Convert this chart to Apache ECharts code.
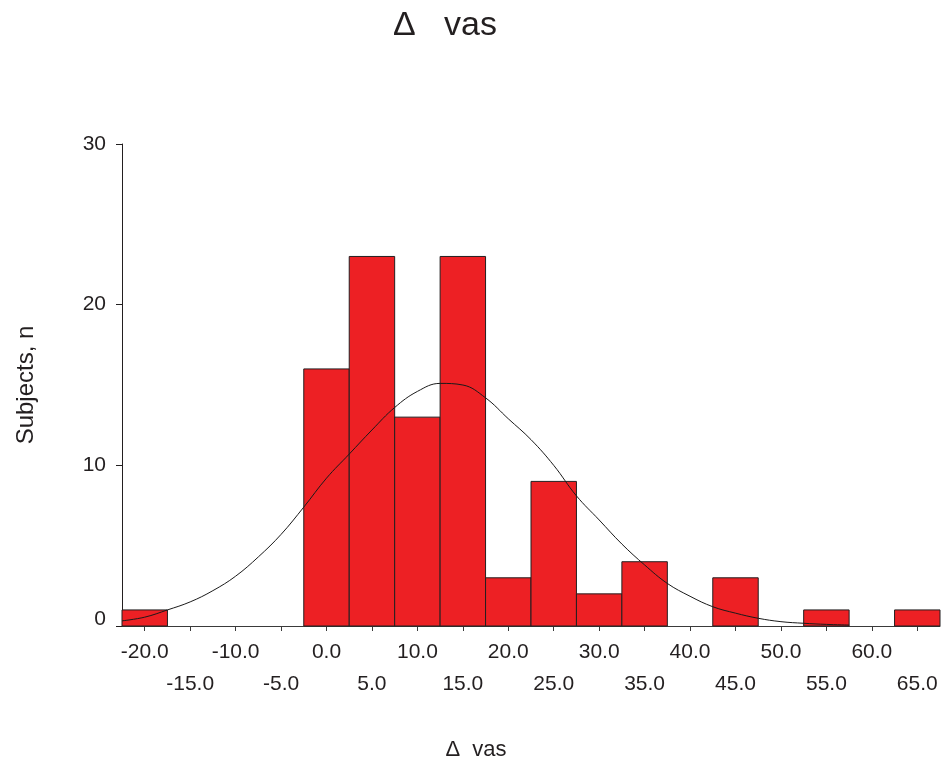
<!DOCTYPE html>
<html>
<head>
<meta charset="utf-8">
<title>Δ vas</title>
<script src="https://cdn.jsdelivr.net/npm/echarts@6/dist/echarts.min.js"></script>
<style>
  html, body { margin: 0; padding: 0; background: #ffffff; }
  #chart { width: 942px; height: 763px; }
</style>
</head>
<body>
<div id="chart"></div>
<script>
// Histogram bins (centre of each 5-unit bin) and subject counts
const binCenters = [-20, -15, -10, -5, 0, 5, 10, 15, 20, 25, 30, 35, 40, 45, 50, 55, 60, 65];
const binCounts  = [  1,   0,   0,  0, 16, 23, 13, 23,  3,  9,  2,  4,  0,  3,  0,  1,  0,  1];
const binWidth = 5;

// Fitted normal curve, sampled points [Δ vas, subjects]
const curveX = [-22.5, -20, -17.5, -15, -12.5, -10, -7.5, -5, -2.5, 0, 2.5, 5, 7.5, 10, 12.5, 15, 17.5,
                20, 22.5, 25, 27.5, 30, 32.5, 35, 37.5, 40, 42.5, 45, 47.5, 50, 52.5, 55, 57.5];
const curveY = [0.32, 0.55, 1.0, 1.5, 2.2, 3.1, 4.3, 5.7, 7.4, 9.2, 10.7, 12.2, 13.6, 14.6, 15.1, 15.0, 14.2,
                12.9, 11.6, 10.0, 8.1, 6.6, 5.1, 3.8, 2.65, 1.85, 1.2, 0.8, 0.48, 0.27, 0.17, 0.1, 0.06];

// Tick labels: x labels alternate between two rows
const xTicksUpper = [-20, -10, 0, 10, 20, 30, 40, 50, 60];
const xTicksLower = [-15, -5, 5, 15, 25, 35, 45, 55, 65];
const xTicksAll = binCenters;
const yTicks = [0, 10, 20, 30];

const titleText = 'Δ   vas';
const xName = 'Δ  vas';
const yName = 'Subjects, n';

const FONT = '"Liberation Sans", Arial, Helvetica, sans-serif';
const INK = '#231f20';
const RED = '#ed2024';

const chart = echarts.init(document.getElementById('chart'));

const xMin = binCenters[0] - binWidth / 2;
const xMax = binCenters[binCenters.length - 1] + binWidth / 2;

const baseX = {
  type: 'value', gridIndex: 0, min: xMin, max: xMax, position: 'bottom',
  splitLine: { show: false }
};

const option = {
  animation: false,
  backgroundColor: '#ffffff',
  grid: { left: 122, right: 2, top: 144, bottom: 137, containLabel: false },
  xAxis: [
    Object.assign({}, baseX, {
      axisLine: { show: true, onZero: false, lineStyle: { color: '#3a3a3a', width: 1 } },
      axisTick: { show: true, length: 5, lineStyle: { color: '#3a3a3a' }, customValues: xTicksAll },
      axisLabel: {
        show: true, margin: 16, fontSize: 21, fontFamily: FONT, color: INK,
        customValues: xTicksUpper, formatter: v => v.toFixed(1)
      }
    }),
    Object.assign({}, baseX, {
      axisLine: { show: false, onZero: false },
      axisTick: { show: false },
      axisLabel: {
        show: true, margin: 48, fontSize: 21, fontFamily: FONT, color: INK,
        customValues: xTicksLower, formatter: v => v.toFixed(1)
      }
    })
  ],
  yAxis: {
    type: 'value', min: yTicks[0], max: yTicks[yTicks.length - 1], interval: 10,
    name: yName, nameLocation: 'middle', nameGap: 84, nameRotate: 90,
    nameTextStyle: { fontSize: 24, fontFamily: FONT, color: INK },
    axisLine: { show: true, onZero: false, lineStyle: { color: INK, width: 1 } },
    axisTick: { show: true, length: 6, inside: false, lineStyle: { color: INK } },
    axisLabel: {
      margin: 16, fontSize: 21, fontFamily: FONT, color: INK,
      // the zero label sits a little above the x axis line
      formatter: v => (v === 0 ? '{z|0}' : String(v)),
      rich: { z: { fontSize: 21, fontFamily: FONT, color: INK, padding: [0, 0, 14, 0] } }
    },
    splitLine: { show: false }
  },
  graphic: [
    {
      type: 'text', x: 445, y: 26,
      style: { text: titleText, fontSize: 34, fontFamily: FONT, fill: INK, textAlign: 'center', textVerticalAlign: 'middle' }
    },
    {
      type: 'text', x: 476, y: 750,
      style: { text: xName, fontSize: 22, fontFamily: FONT, fill: INK, textAlign: 'center', textVerticalAlign: 'middle' }
    }
  ],
  series: [
    {
      type: 'custom',
      name: 'Subjects',
      xAxisIndex: 0,
      data: binCenters.map((c, i) => [c, binCounts[i]]).filter(d => d[1] > 0),
      renderItem: function (params, api) {
        const c = api.value(0);
        const n = api.value(1);
        const p0 = api.coord([c - binWidth / 2, n]);
        const p1 = api.coord([c + binWidth / 2, 0]);
        return {
          type: 'rect',
          shape: { x: p0[0], y: p0[1], width: p1[0] - p0[0], height: p1[1] - p0[1] },
          style: { fill: RED, stroke: INK, lineWidth: 1 }
        };
      },
      z: 2
    },
    {
      type: 'line',
      name: 'Normal',
      xAxisIndex: 0,
      data: curveX.map((x, i) => [x, curveY[i]]),
      smooth: 0.4,
      showSymbol: false,
      symbol: 'none',
      lineStyle: { color: '#1a1a1a', width: 1 },
      z: 3
    }
  ]
};

chart.setOption(option);
</script>
</body>
</html>
